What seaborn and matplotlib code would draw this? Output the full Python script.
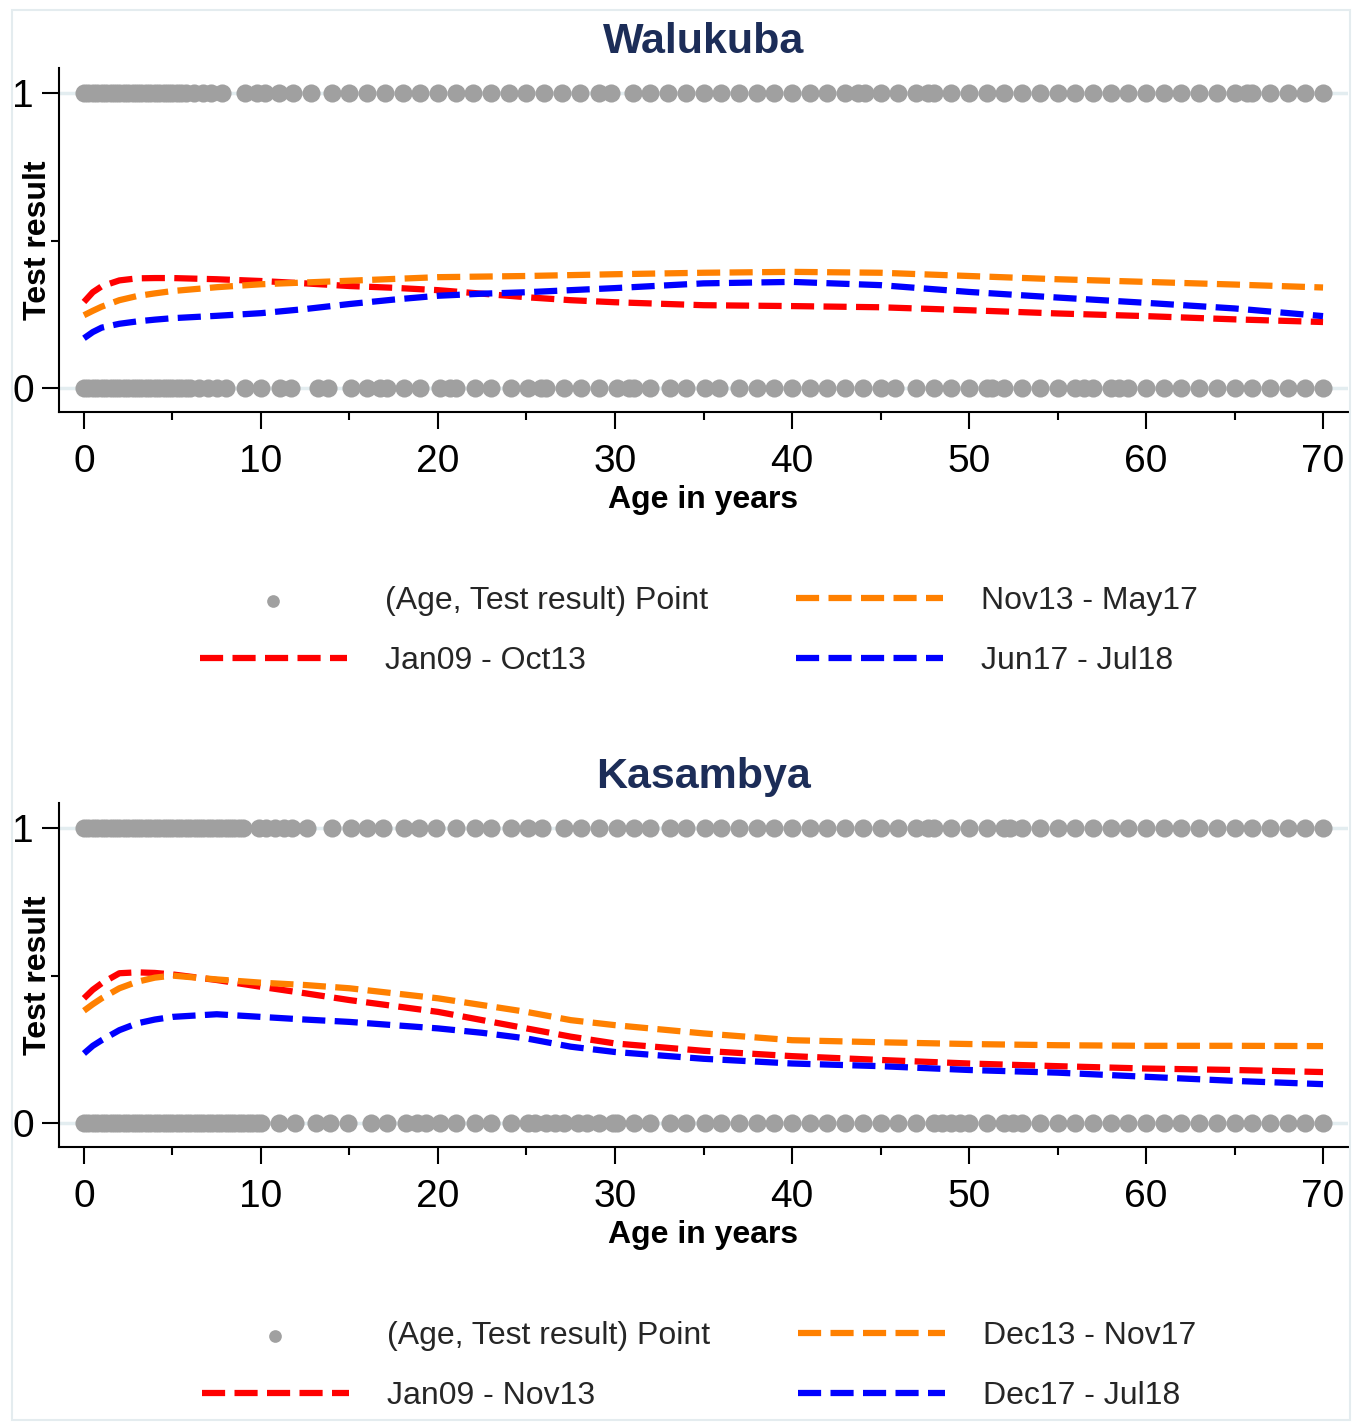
import numpy as np
import pandas as pd
import matplotlib
matplotlib.use("Agg")
import matplotlib.pyplot as plt
from matplotlib.patches import Rectangle
import seaborn as sns

# ---------------- data ----------------
curve_age = [0, 0.5, 1, 2, 3, 4, 5, 7.5, 10, 12.5, 15, 17.5, 20, 22.5, 25, 27.5,
             30, 35, 40, 45, 50, 55, 60, 65, 70]

# Walukuba
wal_red = [0.292, 0.325, 0.345, 0.365, 0.372, 0.373, 0.373, 0.369, 0.363, 0.355, 0.346,
           0.340, 0.332, 0.320, 0.308, 0.298, 0.291, 0.281, 0.278, 0.274, 0.264, 0.253,
           0.244, 0.233, 0.224]
wal_orange = [0.247, 0.262, 0.276, 0.298, 0.312, 0.321, 0.329, 0.342, 0.352, 0.358, 0.364,
              0.370, 0.376, 0.378, 0.380, 0.383, 0.386, 0.391, 0.394, 0.391, 0.380, 0.369,
              0.360, 0.351, 0.341]
wal_blue = [0.169, 0.190, 0.205, 0.218, 0.226, 0.232, 0.237, 0.245, 0.254, 0.268, 0.285,
            0.300, 0.313, 0.320, 0.325, 0.332, 0.339, 0.355, 0.360, 0.349, 0.326, 0.307,
            0.289, 0.270, 0.244]

# Kasambya
kas_red = [0.423, 0.452, 0.474, 0.508, 0.511, 0.509, 0.504, 0.485, 0.462, 0.440, 0.417,
           0.397, 0.377, 0.349, 0.321, 0.293, 0.270, 0.245, 0.227, 0.214, 0.202, 0.193,
           0.185, 0.180, 0.173]
kas_orange = [0.381, 0.403, 0.423, 0.457, 0.479, 0.493, 0.500, 0.487, 0.476, 0.468, 0.457,
              0.440, 0.423, 0.400, 0.377, 0.349, 0.332, 0.304, 0.281, 0.274, 0.268, 0.264,
              0.262, 0.262, 0.261]
kas_blue = [0.236, 0.262, 0.281, 0.315, 0.338, 0.351, 0.360, 0.369, 0.360, 0.351, 0.343,
            0.332, 0.321, 0.306, 0.287, 0.259, 0.241, 0.218, 0.202, 0.193, 0.180, 0.171,
            0.157, 0.143, 0.132]

# observed ages of individual test results (y = 1 positive, y = 0 negative)
wal_pos_age = [0, 0.25, 0.5, 0.75, 1, 1.25, 1.5, 1.75, 2, 2.25, 2.5, 2.75, 3, 3.25, 3.5,
               3.75, 4, 4.25, 4.5, 4.75, 5, 5.25, 5.5, 5.75, 6.2, 6.7, 7.2, 7.8, 9.1, 9.8,
               10.2, 11.0, 11.8, 12.8, 14, 15, 16, 17, 18, 19, 20, 21, 22, 23, 24, 25, 26,
               27, 28, 29.1, 29.8, 31, 32, 33, 34, 35, 36, 37, 38, 39, 40, 41, 42, 43, 43.7,
               44.1, 45, 46, 47, 47.7, 48, 49, 50, 51, 52, 53, 54, 55, 56, 57, 58, 59, 60,
               61, 62, 63, 64, 65, 65.7, 66, 67, 68, 69, 70]
wal_neg_age = [0, 0.25, 0.5, 0.75, 1, 1.25, 1.5, 1.75, 2, 2.25, 2.5, 2.75, 3, 3.25, 3.5,
               3.75, 4, 4.25, 4.5, 4.75, 5, 5.25, 5.5, 5.75, 6.0, 6.5, 7.0, 7.5, 8.0, 9.1,
               10.0, 11.1, 11.7, 13.2, 13.8, 15.1, 16.0, 16.7, 17.1, 18.1, 19.0, 20.1,
               20.7, 21.0, 22.1, 23.0, 24.1, 25.1, 25.8, 26.1, 27.1, 28.1, 29.1, 30.1,
               30.8, 31.1, 32.0, 33.1, 34.0, 35.1, 35.9, 37, 38, 39, 40, 41, 42, 43, 44,
               45, 45.8, 47, 48, 49, 50, 51, 51.3, 52, 53, 54, 55, 56, 56.5, 57, 58, 58.5,
               59, 60, 61, 62, 63, 64, 65, 66, 67, 68, 69, 70]
kas_pos_age = [0, 0.25, 0.5, 0.75, 1, 1.25, 1.5, 1.75, 2, 2.25, 2.5, 2.75, 3, 3.25, 3.5,
               3.75, 4, 4.25, 4.5, 4.75, 5, 5.25, 5.5, 5.75, 6, 6.25, 6.5, 6.75, 7, 7.25,
               7.5, 7.75, 8, 8.25, 8.5, 8.75, 9.0, 9.9, 10.3, 10.8, 11.3, 11.75, 12.6,
               14.0, 15.1, 16.0, 16.9, 18.1, 18.9, 19.9, 21.0, 22.1, 23.0, 24.1, 25.1,
               25.9, 27.1, 28.1, 29.1, 30.1, 31.1, 32.0, 33.1, 34.0, 35.1, 36, 37, 38, 39,
               40, 41, 42, 43, 44, 45, 46, 47, 47.7, 48, 49, 50, 51, 52, 52.3, 53, 54, 55,
               56, 57, 58, 59, 60, 61, 62, 63, 64, 65, 66, 67, 68, 69, 70]
kas_neg_age = [0, 0.25, 0.5, 0.75, 1, 1.25, 1.5, 1.75, 2, 2.25, 2.5, 2.75, 3, 3.25, 3.5,
               3.75, 4, 4.25, 4.5, 4.75, 5, 5.25, 5.5, 5.75, 6, 6.25, 6.5, 6.75, 7, 7.25,
               7.5, 7.75, 8, 8.25, 8.5, 8.75, 9, 9.25, 9.5, 9.75, 10.0, 11.0, 11.95, 13.1,
               13.9, 14.9, 16.2, 17.1, 18.2, 18.8, 19.3, 20.1, 21.0, 22.1, 23.0, 24.1,
               25.1, 25.5, 26.1, 26.6, 27.1, 27.9, 28.4, 29.1, 29.9, 30.1, 31.1, 32.0,
               33.1, 34.0, 35.1, 36, 37, 38, 39, 40, 41, 42, 43, 44, 45, 46, 47, 48, 48.5,
               49, 49.5, 50, 51, 52, 52.5, 53, 54, 55, 56, 57, 58, 59, 60, 61, 62, 63, 64,
               65, 66, 67, 68, 69, 70]

panel_titles = ["Walukuba", "Kasambya"]
period_labels = [["Jan09 - Oct13", "Nov13 - May17", "Jun17 - Jul18"],
                 ["Jan09 - Nov13", "Dec13 - Nov17", "Dec17 - Jul18"]]
x_ticks = [0, 10, 20, 30, 40, 50, 60, 70]
x_minor = [5, 15, 25, 35, 45, 55, 65]
y_ticks = [0, 1]
y_minor = [0.5]

# ---------------- style ----------------
sns.set_theme(style="white")
plt.rcParams["font.family"] = ["Liberation Sans", "DejaVu Sans"]

colors = ["#ff0000", "#ff8000", "#0000ff"]
dot_color = "#a0a0a0"
title_color = "#1c2d58"
dash = (0, (3.7, 1.5))

W, H = 1361, 1425
fig = plt.figure(figsize=(W / 100, H / 100), dpi=100)
fig.patch.set_facecolor("white")

fig.add_artist(Rectangle((12 / W, 1 - 1420 / H), (1350 - 12) / W, (1420 - 10) / H,
                         transform=fig.transFigure, fill=False,
                         edgecolor="#e4ecef", lw=1.5))

panels = [
    dict(top=68, pos=wal_pos_age, neg=wal_neg_age,
         curves=[wal_red, wal_orange, wal_blue], legend_y=631),
    dict(top=803, pos=kas_pos_age, neg=kas_neg_age,
         curves=[kas_red, kas_orange, kas_blue], legend_y=1366),
]

for i, p in enumerate(panels):
    left, right = 59, 1348
    top, bottom = p["top"], p["top"] + 344
    ax = fig.add_axes([left / W, 1 - bottom / H, (right - left) / W, (bottom - top) / H])

    pts = pd.DataFrame({
        "Age": list(p["pos"]) + list(p["neg"]),
        "Test result": [1] * len(p["pos"]) + [0] * len(p["neg"]),
    })
    sns.scatterplot(data=pts, x="Age", y="Test result", ax=ax, color=dot_color,
                    s=170, linewidth=0, label="(Age, Test result) Point", zorder=3)

    for vals, col, lab in zip(p["curves"], colors, period_labels[i]):
        df = pd.DataFrame({"Age": curve_age, "Fit": vals})
        sns.lineplot(data=df, x="Age", y="Fit", ax=ax, color=col, lw=4.5,
                     linestyle=dash, dash_capstyle="butt", label=lab, zorder=4)

    ax.set_xlim(-1.41, 71.41)
    ax.set_ylim(-0.081, 1.085)
    ax.set_xticks(x_ticks)
    ax.set_xticks(x_minor, minor=True)
    ax.set_yticks(y_ticks)
    ax.set_yticks(y_minor, minor=True)
    ax.set_xticklabels([str(t) for t in x_ticks])
    ax.set_yticklabels([str(t) for t in y_ticks])
    ax.tick_params(axis="both", which="major", direction="out", length=12, width=1.5,
                   color="black", labelsize=28, labelcolor="black", pad=11,
                   bottom=True, left=True)
    ax.tick_params(axis="both", which="minor", direction="out", length=6, width=1.5,
                   color="black", bottom=True, left=True)
    ax.tick_params(axis="y", which="major", pad=6)

    for side in ["top", "right"]:
        ax.spines[side].set_visible(False)
    for side in ["left", "bottom"]:
        ax.spines[side].set_color("black")
        ax.spines[side].set_linewidth(1.5)

    ax.grid(False)
    ax.yaxis.grid(True, which="major", color="#e3edf0", lw=2.5)
    ax.set_axisbelow(True)

    ax.set_xlabel("Age in years", fontsize=23, fontweight="bold", color="black", labelpad=4)
    ax.set_ylabel("Test result", fontsize=23, fontweight="bold", color="black")
    ax.yaxis.set_label_coords(-0.005, 0.5)
    ax.set_title(panel_titles[i], fontsize=31, fontweight="bold", color=title_color, pad=11)

    handles, labels = ax.get_legend_handles_labels()
    if ax.get_legend():
        ax.get_legend().remove()
    fig.legend(handles, labels, loc="center", ncol=2,
               bbox_to_anchor=(699 / W, 1 - p["legend_y"] / H),
               frameon=False, fontsize=23, handlelength=4.6, handletextpad=1.2,
               columnspacing=2.75, labelspacing=0.92, markerscale=0.7)

fig.savefig("out.png", dpi=100, facecolor="white")
